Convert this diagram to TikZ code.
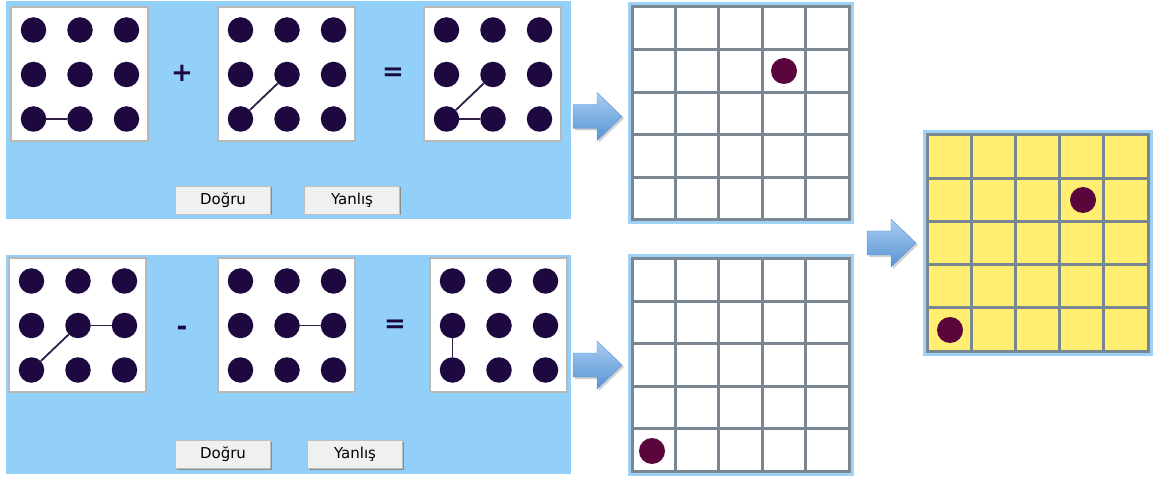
\documentclass[tikz,border=0pt]{standalone}
\usepackage{fontspec}
\setmainfont{DejaVu Sans}[BoldFont={DejaVu Sans Bold}]
\usepackage{xcolor}
\usetikzlibrary{shadows}

\definecolor{panelblue}{RGB}{146,207,249}
\definecolor{dotnavy}{RGB}{30,8,64}
\definecolor{linknavy}{RGB}{46,30,72}
\definecolor{frameblue}{RGB}{160,210,245}
\definecolor{gridgray}{RGB}{122,135,146}
\definecolor{gridmaroon}{RGB}{90,5,60}
\definecolor{gridyellow}{RGB}{255,238,112}
\definecolor{arrowlight}{RGB}{168,204,242}
\definecolor{arrowdark}{RGB}{88,148,212}

\begin{document}
\begin{tikzpicture}[x=1pt,y=-1pt,
  dotbox/.style={draw=black!28, fill=white, line width=1.2pt},
  bigdot/.style={circle, fill=dotnavy, inner sep=0pt, minimum size=25.5pt},
  link/.style={draw=linknavy, line width=1.8pt},
  sign/.style={text=dotnavy, font=\fontsize{26}{26}\selectfont\bfseries},
  button/.style={draw=black!25, fill=black!6, inner sep=0pt,
    minimum width=95pt, minimum height=28pt, font=\fontsize{15}{15}\selectfont,
    drop shadow={shadow xshift=1.5pt, shadow yshift=-1.5pt, fill=black!45, opacity=1}},
  gridframe/.style={draw=frameblue, line width=3pt},
  gridline/.style={draw=gridgray, line width=3pt, line cap=rect},
  griddot/.style={circle, fill=gridmaroon, inner sep=0pt, minimum size=26pt},
  blockarrow/.style={top color=arrowlight, bottom color=arrowdark, draw=arrowdark, line width=0.4pt,
    drop shadow={shadow xshift=2pt, shadow yshift=-2pt, fill=black!60, opacity=0.3}}]
  \useasboundingbox (0,0) rectangle (1154,478);

  % question panels
  \fill[panelblue] (6,1) rectangle (571,219);
  \fill[panelblue] (6,255) rectangle (571,474);

  % 3x3 dot boxes
  \foreach \bx/\lx/\ty in {ta/11/7, tb/218/7, tc/424/7, ba/9/258, bb/218/258, bc/430/258} {
    \draw[dotbox] (\lx,\ty) rectangle ++(137,134);
    \foreach \i in {0,1,2}
      \foreach \j in {0,1,2}
        \node[bigdot] (\bx-\i\j) at (\lx+22.5+46.5*\i, \ty+23+44.5*\j) {};
  }

  \draw[link] (ta-02) -- (ta-12);
  \draw[link] (tb-02) -- (tb-11);
  \draw[link] (tc-02) -- (tc-11);
  \draw[link] (tc-02) -- (tc-12);
  \draw[link] (ba-02) -- (ba-11);
  \draw[link] (ba-11) -- (ba-21);
  \draw[link] (bb-11) -- (bb-21);
  \draw[link] (bc-01) -- (bc-02);

  \node[sign] (plus) at (182,73) {+};
  \node[sign] (eqtop) at (393,74) {=};
  \node[sign] (minus) at (182,331) {-};
  \node[sign] (eqbot) at (395,326) {=};

  % answer buttons
  \node[button] (td) at (223,200) {Doğru};
  \node[button] (ty) at (352,200) {Yanlış};
  \node[button] (bd) at (223,454) {Doğru};
  \node[button] (by) at (355,454) {Yanlış};

  % 5x5 grids
  \foreach \gn/\xa/\ya/\xb/\yb/\gf in {gt/632/7/849/220/white, gb/632/259/849/471/white, gy/927/135/1148/351/gridyellow} {
    \draw[gridframe, fill=\gf] (\xa-3,\ya-3) rectangle (\xb+3,\yb+3);
    \foreach \k in {0,...,5} {
      \draw[gridline] ({\xa+\k*(\xb-\xa)/5},\ya) -- ({\xa+\k*(\xb-\xa)/5},\yb);
      \draw[gridline] (\xa,{\ya+\k*(\yb-\ya)/5}) -- (\xb,{\ya+\k*(\yb-\ya)/5});
    }
  }

  \node[griddot] (gt-dot) at (784,71) {};
  \node[griddot] (gb-dot) at (652,451) {};
  \node[griddot] (gy-dot1) at (1083,200) {};
  \node[griddot] (gy-dot2) at (950,330) {};

  % block arrows
  \foreach \ax/\ay in {573/116.5, 573/365, 867/243}
    \path[blockarrow] (\ax,\ay-12) -- ++(24,0) -- ++(0,-12) -- ++(25,24)
      -- ++(-25,24) -- ++(0,-12) -- ++(-24,0) -- cycle;
\end{tikzpicture}
\end{document}
